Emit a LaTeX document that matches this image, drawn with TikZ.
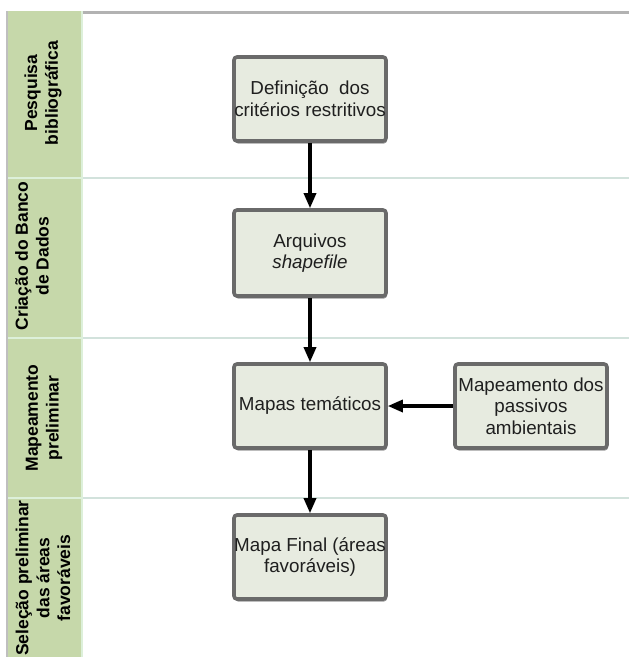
\documentclass[tikz,border=0pt]{standalone}
\usepackage{fontspec}
\setmainfont{Liberation Sans}
\usepackage{xcolor}
\usetikzlibrary{arrows.meta,positioning,shadows}
\definecolor{lanegreen}{HTML}{C6D8AA}
\definecolor{laneedge}{HTML}{DDF0DA}
\definecolor{laneline}{HTML}{D2E2DC}
\definecolor{boxfill}{HTML}{E7EBE0}
\definecolor{boxline}{HTML}{6A6A6A}
\tikzset{
  stepbox/.style={draw=boxline, fill=boxfill, line width=3.6pt, rounded corners=3pt,
                  minimum width=152pt, minimum height=84pt, inner xsep=0pt, inner ysep=2pt,
                  align=center, text=black!88, font=\fontsize{18.8}{21.5}\selectfont,
                  drop shadow={shadow xshift=1pt, shadow yshift=-2.5pt, opacity=0.4, fill=black}},
  lanetxt/.style={rotate=90, align=center, font=\bfseries\fontsize{17.5}{20.8}\selectfont},
  flow/.style={-{Triangle[length=15pt,width=12pt]}, line width=3.2pt},
}

\begin{document}
\begin{tikzpicture}[x=1pt, y=-1pt]
  \useasboundingbox (0,0) rectangle (629,657);
  \fill[lanegreen] (8,11) rectangle (82,657);
  \draw[black!25, line width=2pt] (7,11) -- (7,657);
  \draw[black!30, line width=3pt] (82,12) -- (629,12);
  \foreach \y in {178,338,498} {
    \draw[laneline, line width=1.5pt] (82,\y) -- (629,\y);
    \draw[laneedge, line width=1.2pt] (8,\y) -- (82,\y);
  }
  \draw[laneedge, line width=1.2pt] (82,11) -- (82,657);

  \node[lanetxt] (lane1) at (43,93)  {Pesquisa\\bibliográfica};
  \node[lanetxt] (lane2) at (32,256) {Criação do Banco\\de Dados};
  \node[lanetxt] (lane3) at (44,418) {Mapeamento\\preliminar};
  \node[lanetxt] (lane4) at (43,578) {Seleção preliminar\\das áreas\\favoráveis};

  \node[stepbox] (def)      at (310,99)  {Definição~ dos\\critérios restritivos};
  \node[stepbox, minimum height=86pt] (arq) at (310,253) {Arquivos\\\textit{shapefile}};
  \node[stepbox] (mapas)    at (310,406) {Mapas temáticos};
  \node[stepbox] (passivos) at (531,406) {Mapeamento dos\\passivos\\ambientais};
  \node[stepbox] (final)    at (310,557) {Mapa Final (áreas\\favoráveis)};

  \draw[flow] (def) -- (arq);
  \draw[flow] (arq) -- (mapas);
  \draw[flow] (passivos) -- (mapas);
  \draw[flow] (mapas) -- (final);
\end{tikzpicture}
\end{document}
